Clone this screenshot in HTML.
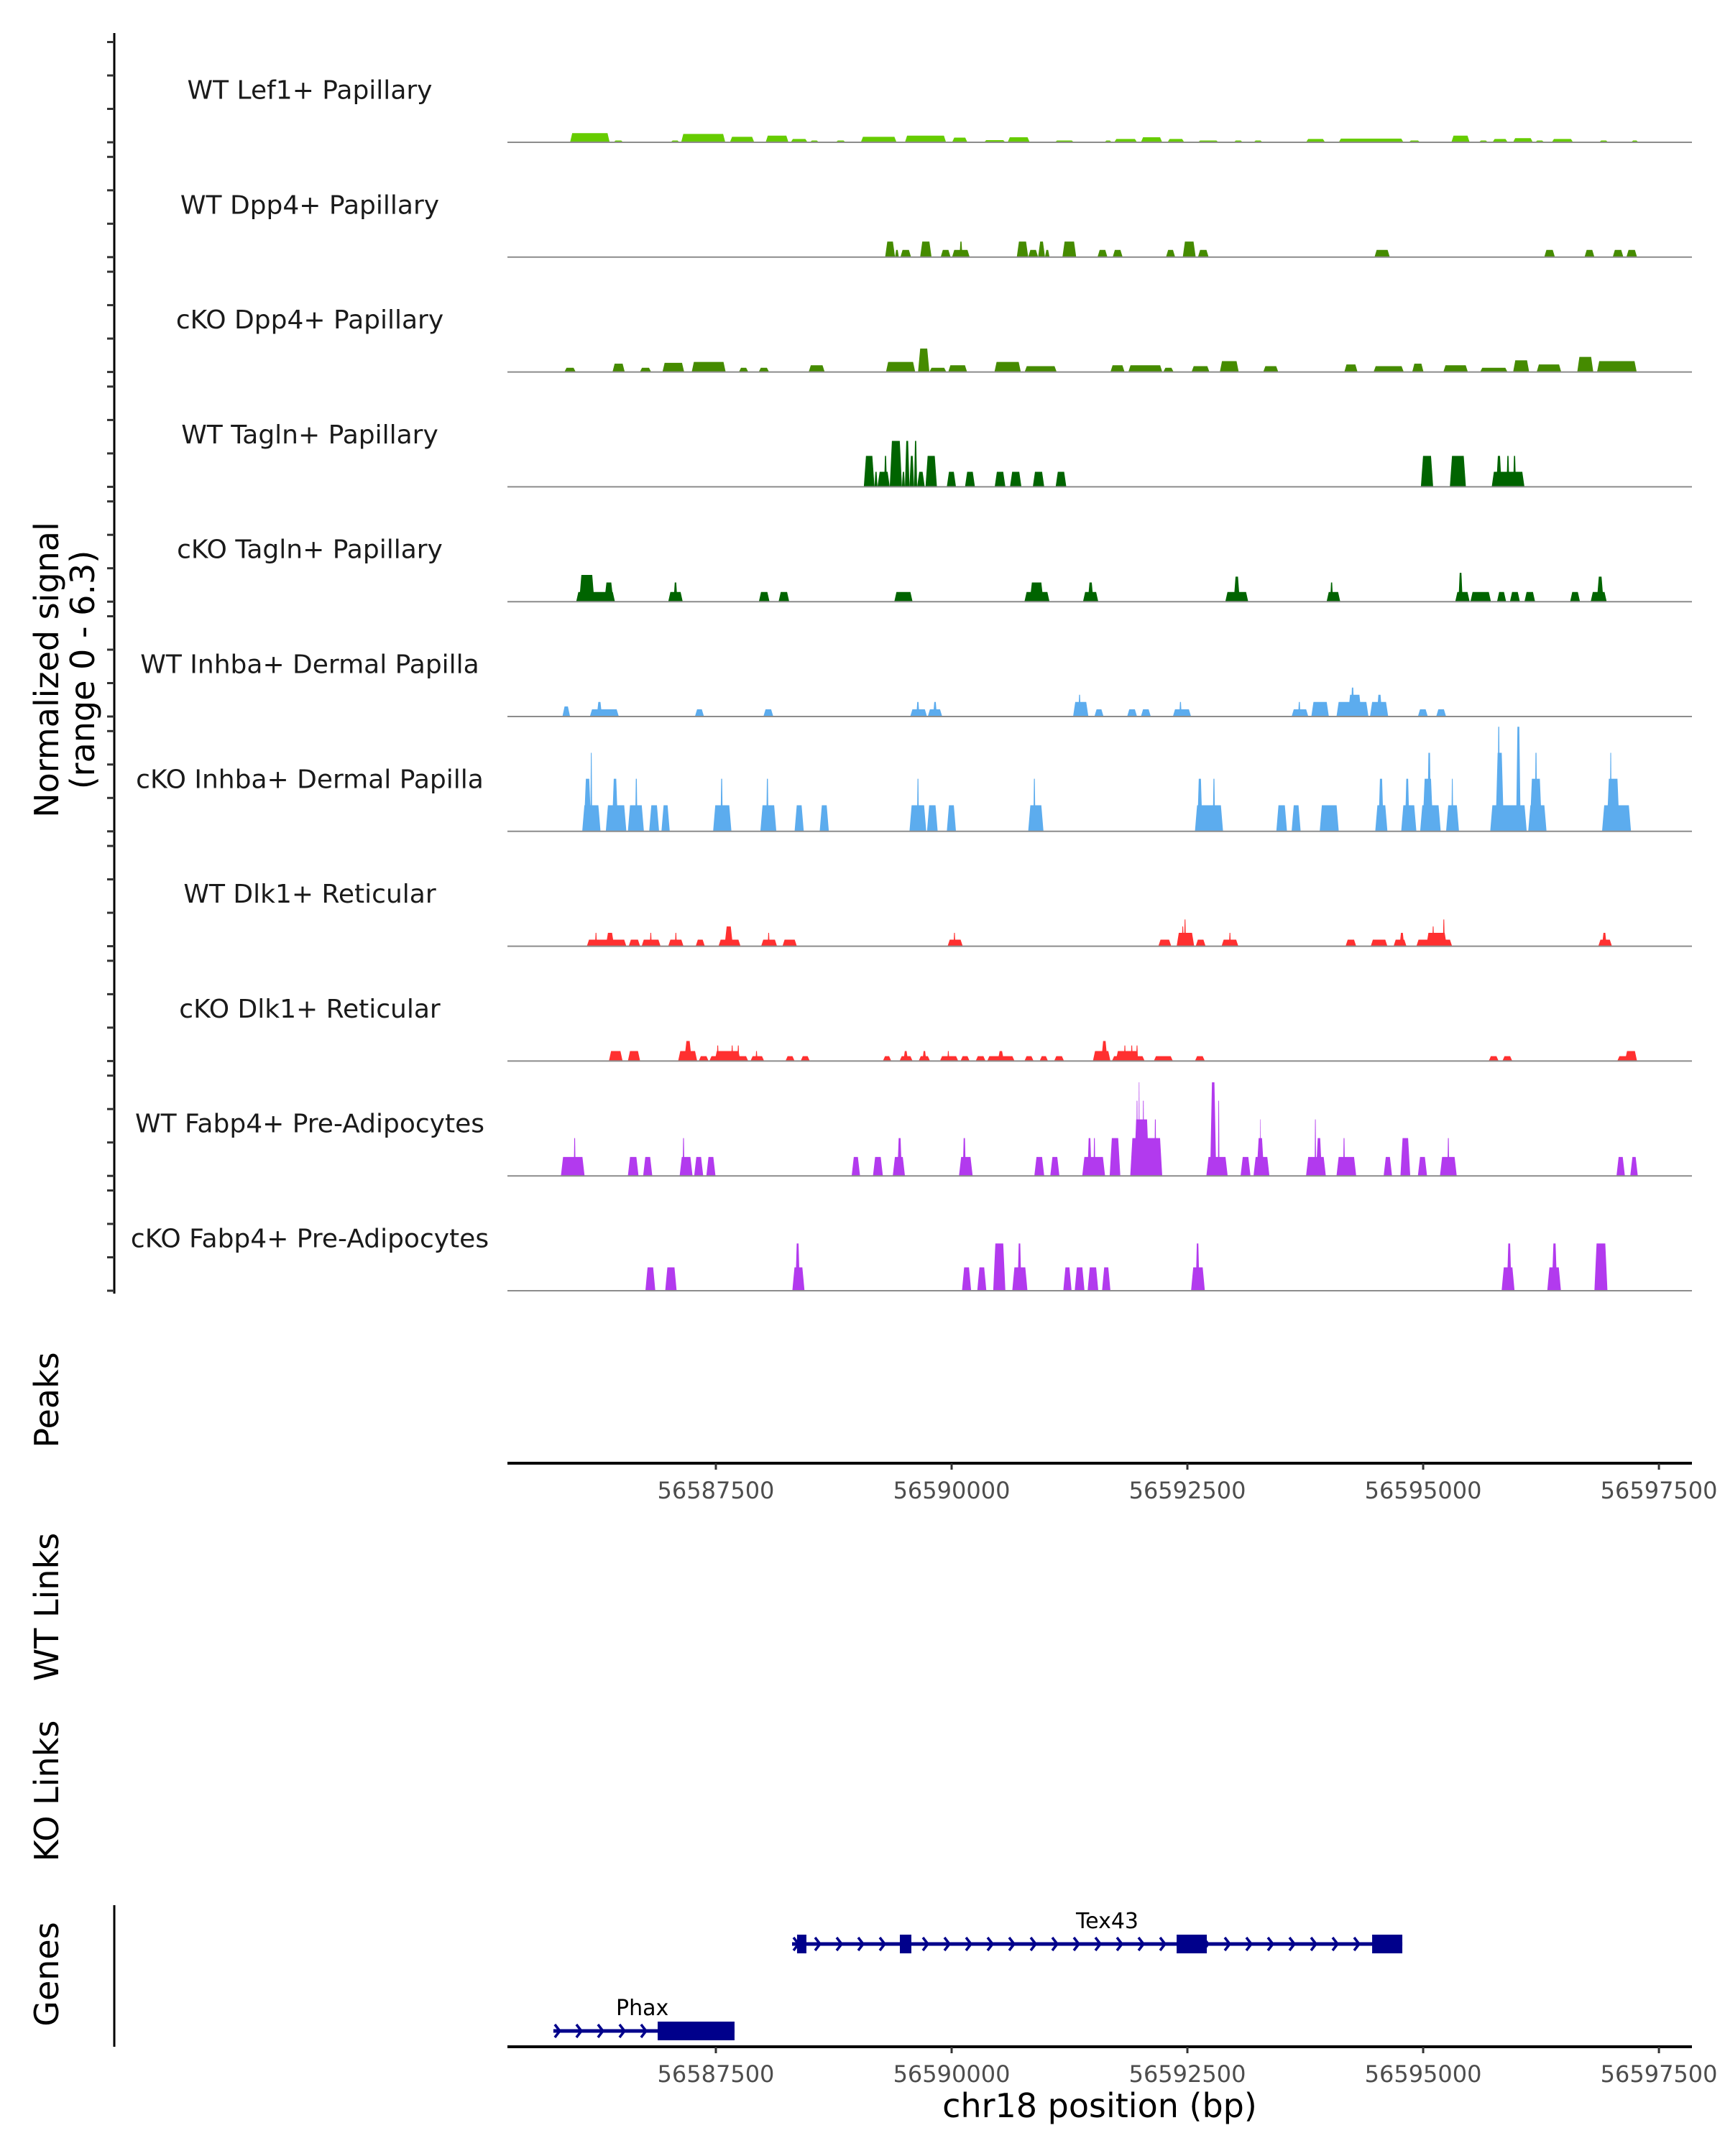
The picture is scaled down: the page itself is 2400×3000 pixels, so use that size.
<!DOCTYPE html>
<html><head><meta charset="utf-8">
<style>
html,body{margin:0;padding:0;background:#fff;}
svg{display:block;font-family:"DejaVu Sans","Liberation Sans",sans-serif;}
</style></head>
<body>
<svg id="chart" width="2400" height="3000" viewBox="0 0 2400 3000" xmlns="http://www.w3.org/2000/svg">
  <rect width="2400" height="3000" fill="#fff"/>
  <g id="tracks"></g>
  <g id="axes"></g>
  <g id="genes"></g>
  <text transform="translate(81,932) rotate(-90)" text-anchor="middle" font-size="46">Normalized signal</text>
  <text transform="translate(131,932) rotate(-90)" text-anchor="middle" font-size="46">(range 0 - 6.3)</text>
  <text transform="translate(81,1948) rotate(-90)" text-anchor="middle" font-size="46">Peaks</text>
  <text transform="translate(81,2236) rotate(-90)" text-anchor="middle" font-size="46">WT Links</text>
  <text transform="translate(81,2492) rotate(-90)" text-anchor="middle" font-size="46">KO Links</text>
  <text transform="translate(81,2747) rotate(-90)" text-anchor="middle" font-size="46">Genes</text>
  <text x="1530" y="2946" text-anchor="middle" font-size="46">chr18 position (bp)</text>
</svg>
<script>
// ---- data ----
const REGION_START = 56585244;
const trackNames = ["WT Lef1+ Papillary","WT Dpp4+ Papillary","cKO Dpp4+ Papillary","WT Tagln+ Papillary","cKO Tagln+ Papillary","WT Inhba+ Dermal Papilla","cKO Inhba+ Dermal Papilla","WT Dlk1+ Reticular","cKO Dlk1+ Reticular","WT Fabp4+ Pre-Adipocytes","cKO Fabp4+ Pre-Adipocytes"];
const trackColors = ["#66cc00","#458b00","#458b00","#006400","#006400","#5cacee","#5cacee","#ff3030","#ff3030","#b23aee","#b23aee"];
// offsets from REGION_START (bp) and heights (normalized signal)
const lef1Start=[710,1170,1775,1888,2405,2784,3050,3252,3527,3793,4261,4761,5100,5350,5851,6375,6480,6763,7045,7368,7747,7957,8514,8861,9603,10055,10346,10491,10709,10943,11120,11621,11960];
const lef1End=[1130,1275,1872,2356,2663,3026,3228,3349,3632,4172,4697,4923,5326,5584,6053,6456,6722,6989,7223,7586,7844,8054,8716,9547,9724,10249,10443,10652,10919,11040,11346,11718,12040];
const lef1H=[0.55,0.11,0.11,0.5,0.33,0.4,0.2,0.11,0.11,0.33,0.4,0.28,0.13,0.3,0.11,0.11,0.2,0.3,0.2,0.11,0.11,0.11,0.2,0.22,0.11,0.4,0.11,0.2,0.25,0.11,0.2,0.11,0.11];
const dpp4WtStart=[4051,4156,4213,4422,4640,4761,4840,5447,5568,5673,5746,5931,6303,6464,7029,7207,7368,9240,11040,11467,11766,11911];
const dpp4WtEnd=[4156,4196,4326,4543,4745,4947,4870,5568,5673,5746,5794,6077,6408,6569,7126,7344,7481,9402,11153,11572,11879,12024];
const dpp4WtH=[0.93,0.43,0.43,0.93,0.43,0.43,0.93,0.93,0.43,0.93,0.43,0.93,0.43,0.43,0.43,0.93,0.43,0.43,0.43,0.43,0.43,0.43];
const dpp4KoStart=[650,1160,1450,1690,2000,2500,2710,3240,4060,4400,4520,4720,5210,5530,6440,6630,7000,7300,7600,8060,8920,9230,9640,9970,10360,10710,10960,11390,11600];
const dpp4KoEnd=[770,1290,1570,1920,2360,2600,2820,3410,4370,4520,4700,4920,5490,5870,6590,6990,7110,7490,7800,8220,9060,9550,9760,10230,10650,10880,11220,11560,12020];
const dpp4KoH=[0.25,0.5,0.25,0.55,0.6,0.25,0.25,0.4,0.6,1.4,0.25,0.4,0.6,0.35,0.4,0.4,0.25,0.35,0.65,0.35,0.45,0.35,0.5,0.4,0.25,0.7,0.45,0.9,0.65];
const taglnWtStart=[3825,3938,3970,4040,4100,4229,4261,4309,4358,4390,4479,4705,4898,5213,5375,5617,5859,9732,10039,10483,10531,10640,10710];
const taglnWtEnd=[3938,3970,4100,4070,4229,4261,4309,4358,4390,4471,4600,4802,5003,5326,5496,5738,5972,9862,10209,10830,10588,10670,10740];
const taglnWtH=[1.85,0.9,0.9,1.85,2.75,0.9,2.75,1.85,2.75,0.9,1.85,0.9,0.9,0.9,0.9,0.9,0.9,1.85,1.85,0.9,1.85,1.85,1.85];
const taglnKoStart=[775,807,1073,1751,1808,2712,2921,4148,5528,5584,6149,6200,7658,7747,8732,8770,10096,10130,10257,10539,10676,10830,11314,11532,11597];
const taglnKoEnd=[1186,968,1170,1905,1848,2825,3034,4342,5794,5730,6311,6260,7901,7812,8877,8800,10249,10175,10475,10636,10782,10943,11419,11702,11669];
const taglnKoH=[0.58,1.6,1.15,0.58,1.15,0.58,0.58,0.58,0.58,1.15,0.58,1.15,0.58,1.5,0.58,1.15,0.58,1.73,0.58,0.58,0.58,0.58,0.58,0.58,1.5];
const inhbaWtStart=[629,920,993,2034,2760,4317,4382,4503,4560,6044,6100,6270,6617,6763,7102,7170,8361,8430,8570,8837,8958,8990,9192,9264,9700,9894];
const inhbaWtEnd=[710,1227,1049,2130,2865,4495,4414,4656,4600,6206,6125,6367,6722,6868,7295,7195,8538,8455,8756,9176,9103,9025,9385,9321,9805,9999];
const inhbaWtH=[0.6,0.43,0.87,0.43,0.43,0.43,0.87,0.43,0.87,0.87,1.3,0.43,0.43,0.43,0.43,0.87,0.43,0.87,0.87,0.87,1.3,1.73,0.87,1.3,0.43,0.43];
const inhbaKoStart=[839,855,925,1089,1154,1323,1400,1549,1679,2227,2305,2728,2790,3091,3357,4309,4388,4495,4705,5568,5622,7336,7360,7525,8199,8361,8659,9248,9281,9523,9563,9724,9749,9800,9999,10055,10467,10523,10545,10741,10870,10886,10940,11653,11702,11735];
const inhbaKoEnd=[1033,936,945,1307,1219,1493,1425,1654,1767,2421,2330,2897,2815,3188,3454,4487,4410,4608,4802,5730,5645,7634,7416,7550,8312,8457,8861,9377,9337,9684,9611,9942,9862,9840,10136,10075,10854,10612,10570,10790,11064,11016,10965,11960,11839,11755];
const inhbaKoH=[1.56,3.15,4.7,1.56,3.15,1.56,3.15,1.56,1.56,1.56,3.15,1.56,3.15,1.56,1.56,1.56,3.15,1.56,1.56,1.56,3.15,1.56,3.15,3.15,1.56,1.56,1.56,1.56,3.15,1.56,3.15,1.56,3.15,4.7,1.56,3.15,1.56,4.7,6.26,6.26,1.56,3.15,4.7,1.56,3.15,4.7];
const dlk1WtStart=[888,975,1089,1332,1469,1556,1751,1822,2042,2284,2348,2736,2806,2962,4713,4776,6948,7142,7197,7221,7344,7618,7697,8933,9200,9442,9506,9684,9789,9852,9965,11613,11653];
const dlk1WtEnd=[1307,995,1178,1453,1670,1576,1913,1842,2139,2518,2437,2905,2826,3115,4874,4796,7085,7328,7217,7241,7449,7796,7717,9046,9377,9579,9555,10063,10007,9872,9985,11758,11702];
const dlk1WtH=[0.39,0.8,0.8,0.39,0.39,0.8,0.39,0.8,0.39,0.39,1.18,0.39,0.8,0.39,0.39,0.8,0.39,0.8,1.18,1.6,0.39,0.39,0.8,0.39,0.39,0.39,0.8,0.39,0.8,1.18,1.6,0.39,0.8];
const dlk1KoStart=[1122,1323,1856,1921,2074,2187,2243,2266,2419,2484,2623,2677,2994,3155,4027,4204,4245,4406,4447,4632,4711,4850,5011,5133,5246,5528,5689,5843,6254,6343,6456,6496,6583,6656,6712,6900,7336,10451,10596,11814,11895];
const dlk1KoEnd=[1267,1453,2058,2001,2179,2599,2518,2286,2439,2504,2768,2697,3091,3252,4116,4342,4293,4527,4487,4826,4731,4947,5116,5423,5310,5625,5778,5948,6440,6408,6803,6738,6603,6676,6732,7102,7441,10556,10701,12024,12024];
const dlk1KoH=[0.6,0.6,0.6,1.2,0.29,0.29,0.6,0.93,0.93,0.93,0.29,0.6,0.29,0.29,0.29,0.29,0.6,0.29,0.6,0.29,0.6,0.29,0.29,0.29,0.6,0.29,0.29,0.29,0.6,1.2,0.29,0.6,0.93,0.93,0.93,0.29,0.29,0.29,0.29,0.29,0.6];
const fabp4WtStart=[613,749,1323,1485,1872,1903,2026,2155,3696,3922,4132,4180,4834,4874,5633,5802,6141,6196,6260,6432,6650,6690,6714,6738,6781,6906,7457,7497,7580,7820,7957,7989,8025,8514,8605,8619,8837,8907,9337,9515,9700,9934,10013,11806,11952];
const fabp4WtEnd=[864,769,1436,1582,2009,1923,2122,2252,3785,4027,4261,4229,4979,4907,5738,5899,6383,6240,6280,6545,6989,6851,6730,6750,6797,6926,7683,7562,7596,7925,8126,8070,8035,8724,8621,8683,9046,8927,9426,9619,9797,10112,10033,11895,12032];
const fabp4WtH=[1.13,2.26,1.13,1.13,1.13,2.26,1.13,1.13,1.13,1.13,1.13,2.26,1.13,2.26,1.13,1.13,1.13,2.26,2.26,2.26,2.26,3.38,4.5,5.6,4.5,3.38,1.13,5.6,4.5,1.13,1.13,2.26,3.38,1.13,3.38,2.26,1.13,2.26,1.13,2.26,1.13,1.13,2.26,1.13,1.13];
const fabp4KoStart=[1509,1719,3067,3099,4866,5028,5197,5399,5455,5940,6061,6198,6351,7295,7344,10588,10644,11072,11120,11572];
const fabp4KoEnd=[1614,1840,3196,3147,4963,5124,5326,5560,5496,6028,6165,6311,6440,7441,7384,10725,10693,11217,11177,11710];
const fabp4KoH=[1.4,1.4,1.4,2.83,1.4,1.4,2.83,1.4,2.83,1.4,1.4,1.4,1.4,1.4,2.83,1.4,2.83,1.4,2.83,2.83];
const trackStarts=[lef1Start,dpp4WtStart,dpp4KoStart,taglnWtStart,taglnKoStart,inhbaWtStart,inhbaKoStart,dlk1WtStart,dlk1KoStart,fabp4WtStart,fabp4KoStart];
const trackEnds=[lef1End,dpp4WtEnd,dpp4KoEnd,taglnWtEnd,taglnKoEnd,inhbaWtEnd,inhbaKoEnd,dlk1WtEnd,dlk1KoEnd,fabp4WtEnd,fabp4KoEnd];
const trackHeights=[lef1H,dpp4WtH,dpp4KoH,taglnWtH,taglnKoH,inhbaWtH,inhbaKoH,dlk1WtH,dlk1KoH,fabp4WtH,fabp4KoH];
const xTicks=[56587500,56590000,56592500,56595000,56597500];
const geneNames=["Tex43","Phax"];
const geneStarts=[56588308,56585777];
const geneEnds=[56594779,56587698];
const geneRows=[0,1];
const geneLabelPos=[56591650,56586720];
const exonStarts=[[56588361,56589451,56592386,56594459],[56586883]];
const exonEnds=[[56588460,56589573,56592706,56594779],[56587698]];

// ---- scales ----
const NS="http://www.w3.org/2000/svg";
const X0=706,X1=2354,D0=56585290,D1=56597850;
function xs(bp){return X0+(bp-D0)/(D1-D0)*(X1-X0);}
const BASE0=198,TRACK_STEP=159.8,UNIT=23.25;
function yb(i){return BASE0+i*TRACK_STEP;}
function mk(tag,attrs,parent){const e=document.createElementNS(NS,tag);for(const k in attrs)e.setAttribute(k,attrs[k]);parent.appendChild(e);return e;}

const gT=document.getElementById('tracks');
const gA=document.getElementById('axes');
const gG=document.getElementById('genes');

const ax=mk('line',{x1:159,y1:46,x2:159,y2:1800,stroke:'#000','stroke-width':3},gA);



trackNames.forEach((name,i)=>{
  const base=yb(i);
  const g=mk('g',{},gT);
  
  
  const lbl=mk('text',{x:431,y:base-72,'text-anchor':'middle','dominant-baseline':'central','font-size':36,fill:'#1a1a1a'},g);
  lbl.textContent=name;
  
  
  const s=trackStarts[i],e=trackEnds[i],h=trackHeights[i];
  for(let k=0;k<s.length;k++){
    const a=xs(REGION_START+s[k]),b=xs(REGION_START+e[k]);
    const t=Math.min(3,(b-a)*0.3);
    const top=base-h[k]*UNIT;
    const p=mk('polygon',{points:`${a},${base} ${a+t},${top} ${b-t},${top} ${b},${base}`,fill:trackColors[i]},g);
    
    
  }
  const bl=mk('line',{x1:X0,y1:base,x2:X1,y2:base,stroke:'#8c8c8c','stroke-width':2},g);
  
  
  for(let k=0;k<4;k++){
    const ty=base-k*2*UNIT;
    const tk=mk('line',{x1:149,y1:ty,x2:159,y2:ty,stroke:'#333','stroke-width':3},gA);
    
    
  }
});

[2036,2848].forEach((yy,j)=>{
  const l=mk('line',{x1:X0,y1:yy,x2:X1,y2:yy,stroke:'#000','stroke-width':4},gA);
  
  
  xTicks.forEach(v=>{
    const x=xs(v);
    const tk=mk('line',{x1:x,y1:yy,x2:x,y2:yy+9,stroke:'#333','stroke-width':3},gA);
    
    
    const tl=mk('text',{x:x,y:yy+49,'text-anchor':'middle','font-size':32,fill:'#4d4d4d'},gA);
    tl.textContent=String(v);
    
    
  });
});

const gax=mk('line',{x1:159,y1:2651,x2:159,y2:2848,stroke:'#000','stroke-width':3},gA);



const rowY=[2705,2826];
geneNames.forEach((gn,i)=>{
  const y=rowY[geneRows[i]];
  const g=mk('g',{},gG);
  
  
  const a=xs(geneStarts[i]),b=xs(geneEnds[i]);
  const ln=mk('line',{x1:a,y1:y,x2:b,y2:y,stroke:'#00008b','stroke-width':5},g);
  
  
  for(let cx=a+6;cx<b-10;cx+=30){
    const c=mk('polyline',{points:`${cx-4},${y-9} ${cx+3},${y} ${cx-4},${y+9}`,fill:'none',stroke:'#00008b','stroke-width':3.5},g);
    
    
  }
  exonStarts[i].forEach((es,k)=>{
    const ea=xs(es),eb=xs(exonEnds[i][k]);
    const r=mk('rect',{x:ea,y:y-13,width:eb-ea,height:26,fill:'#00008b'},g);
    
    
  });
  const t=mk('text',{x:xs(geneLabelPos[i]),y:y-22,'text-anchor':'middle','font-size':30,fill:'#000'},g);
  t.textContent=gn;
  
  
});
</script>
</body></html>
